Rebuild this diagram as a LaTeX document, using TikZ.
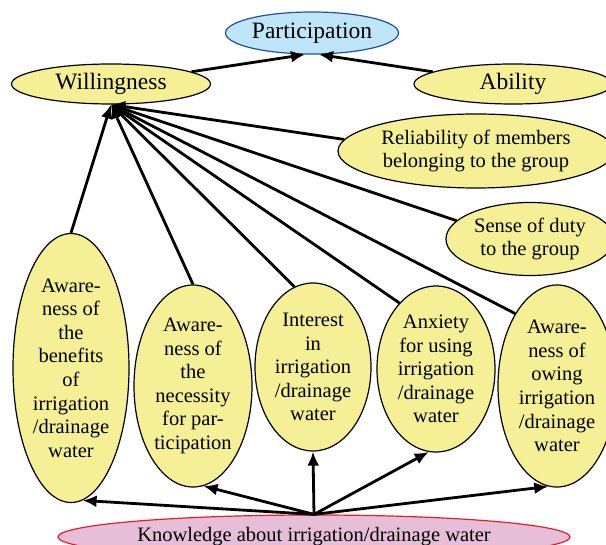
\documentclass[tikz,border=0pt]{standalone}
\usepackage{fontspec}
\setmainfont{Liberation Serif}
\usetikzlibrary{shapes.geometric,arrows.meta}
\definecolor{yelfill}{RGB}{245,240,150}
\definecolor{bluefill}{RGB}{190,230,248}
\definecolor{blueline}{RGB}{30,80,170}
\definecolor{pinkfill}{RGB}{230,190,215}
\definecolor{redline}{RGB}{230,30,40}

\begin{document}
\begin{tikzpicture}[
        x=0.5pt,y=-0.5pt,
        esty/.style={ellipse,draw,line width=0.6pt,fill=yelfill,inner sep=0pt,align=center,
            font=\fontsize{10.25}{11.8}\selectfont},
        bsty/.style={esty,font=\fontsize{11.75}{13}\selectfont},
        asty/.style={-{Latex[length=7pt,width=6pt]},line width=1.4pt},
        ]
    \clip (0,0) rectangle (606,545);

    \node (part) at (312,33) [bsty,fill=bluefill,draw=blueline,minimum width=86.5pt,minimum height=21pt] {Participation};
    \node (will) at (111,84) [bsty,minimum width=99.5pt,minimum height=20pt] {Willingness};
    \node (abil) at (513,84) [bsty,minimum width=99pt,minimum height=20pt] {Ability};

    \node (rel) at (476,151) [esty,minimum width=138pt,minimum height=37pt] {Reliability of members\\belonging to the group};
    \node (duty) at (530,239) [esty,minimum width=84pt,minimum height=36.5pt] {Sense of duty\\to the group};

    \node (ben) at (71,368) [esty,minimum width=58pt,minimum height=134.5pt] {Aware-\\ness of\\the\\benefits\\of\\irrigation\\/drainage\\water};
    \node (nec) at (193,386) [esty,minimum width=59pt,minimum height=101pt] {Aware-\\ness of\\the\\necessity\\for par-\\ticipation};
    \node (int) at (313,367) [esty,minimum width=58pt,minimum height=84pt] {Interest\\in\\irrigation\\/drainage\\water};
    \node (anx) at (436,369) [esty,minimum width=59pt,minimum height=83pt] {Anxiety\\for using\\irrigation\\/drainage\\water};
    \node (own) at (557,386) [esty,minimum width=59pt,minimum height=101pt] {Aware-\\ness of\\owing\\irrigation\\/drainage\\water};

    \node (know) at (314,537) [esty,fill=pinkfill,draw=redline,minimum width=256pt,minimum height=22pt] {Knowledge about irrigation/drainage water};

    % upper level
    \draw[asty] (will) -- (part.252);
    \draw[asty] (abil) -- (part.288);

    % into willingness
    \draw[asty] (rel.175) -- (will.south);
    \draw[asty] (duty.166) -- (will.south);
    \draw[asty] (ben.north) -- (will.south);
    \draw[asty] (nec.north) -- (will.south);
    \draw[asty] (int.103) -- (will.south);
    \draw[asty] (anx.119) -- (will.south);
    \draw[asty] (own.120) -- (will.south);

    % from knowledge
    \draw[asty] (know.north) -- (ben.275);
    \draw[asty] (know.north) -- (nec.276);
    \draw[asty] (know.north) -- (int.south);
    \draw[asty] (know.north) -- (anx.265);
    \draw[asty] (know.north) -- (own.265);

\end{tikzpicture}
\end{document}
